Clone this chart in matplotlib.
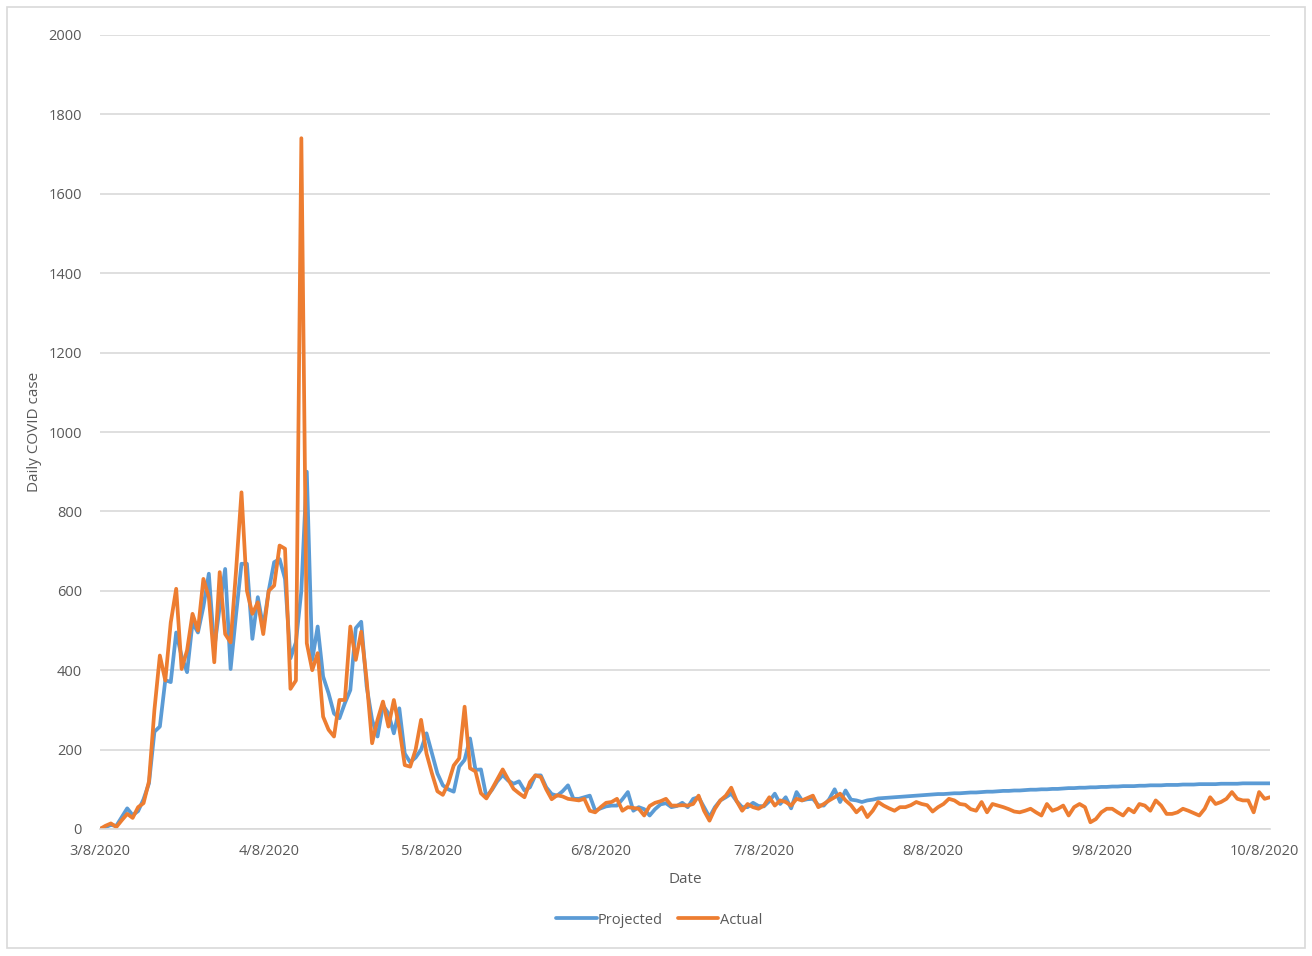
import numpy as np
import pandas as pd
import matplotlib
matplotlib.use("Agg")
import matplotlib.pyplot as plt
import matplotlib.dates as mdates
from matplotlib.patches import Rectangle
from matplotlib.ticker import FuncFormatter

## data, one value per day from 3/8/2020
start_date = "2020-03-08"

projected = [
    0, 5, 10, 8, 30, 52, 35, 45, 75, 115,
    245, 258, 375, 370, 495, 435, 395, 520, 495, 560,
    643, 455, 560, 655, 403, 540, 668, 668, 479, 584,
    508, 600, 672, 680, 630, 430, 470, 600, 900, 426,
    510, 384, 342, 291, 279, 317, 350, 506, 522, 359,
    275, 233, 312, 291, 241, 304, 190, 168, 180, 200,
    241, 190, 140, 110, 100, 94, 157, 174, 228, 149,
    150, 81, 98, 120, 136, 122, 114, 120, 97, 105,
    135, 135, 105, 88, 84, 95, 110, 76, 76, 80,
    84, 46, 52, 57, 59, 59, 75, 93, 46, 55,
    50, 34, 50, 62, 65, 55, 58, 66, 55, 76,
    80, 55, 30, 55, 72, 80, 89, 70, 55, 55,
    66, 58, 57, 70, 89, 63, 80, 52, 93, 72,
    75, 76, 60, 59, 75, 100, 68, 97, 74, 72,
    68, 72, 74, 77, 78, 79, 80, 81, 82, 83,
    84, 85, 86, 87, 88, 88, 89, 90, 90, 91,
    92, 92, 93, 94, 94, 95, 96, 96, 97, 97,
    98, 99, 99, 100, 100, 101, 101, 102, 103, 103,
    104, 104, 105, 105, 106, 106, 107, 107, 108, 108,
    108, 109, 109, 110, 110, 110, 111, 111, 111, 112,
    112, 112, 113, 113, 113, 113, 114, 114, 114, 114,
    115, 115, 115, 115, 115, 115,
]

actual = [
    0, 8, 14, 5, 22, 38, 28, 55, 65, 120,
    300, 437, 374, 520, 605, 403, 450, 542, 500, 630,
    584, 420, 647, 491, 470, 650, 848, 600, 542, 571,
    491, 600, 613, 714, 706, 353, 374, 1740, 468, 400,
    443, 283, 250, 233, 325, 325, 510, 426, 497, 375,
    216, 275, 321, 258, 325, 254, 161, 157, 200, 275,
    190, 140, 95, 86, 115, 160, 178, 308, 153, 145,
    90, 77, 100, 125, 150, 125, 101, 90, 80, 118,
    135, 131, 100, 75, 85, 82, 76, 74, 72, 76,
    46, 42, 55, 66, 68, 76, 46, 55, 53, 51,
    34, 58, 66, 70, 76, 59, 59, 60, 59, 63,
    84, 46, 21, 51, 72, 84, 104, 70, 46, 63,
    55, 51, 59, 80, 59, 72, 68, 59, 76, 72,
    78, 84, 55, 63, 72, 80, 89, 72, 60, 42,
    55, 30, 46, 68, 59, 52, 46, 55, 55, 60,
    68, 63, 60, 44, 55, 63, 76, 72, 63, 61,
    50, 46, 68, 42, 63, 59, 55, 50, 44, 42,
    46, 51, 42, 34, 63, 46, 51, 59, 34, 55,
    63, 55, 17, 25, 42, 51, 51, 42, 34, 51,
    42, 63, 59, 46, 72, 59, 38, 38, 42, 51,
    46, 40, 34, 51, 80, 63, 68, 76, 93, 76,
    72, 72, 42, 93, 76, 80,
]

tick_dates = pd.to_datetime(["2020-03-08", "2020-04-08", "2020-05-08", "2020-06-08",
                             "2020-07-08", "2020-08-08", "2020-09-08", "2020-10-08"])
y_ticks = [0, 200, 400, 600, 800, 1000, 1200, 1400, 1600, 1800, 2000]

dates = pd.date_range(start_date, periods=len(actual), freq="D")

blue = "#5B9BD5"
orange = "#ED7D31"
grey_text = "#595959"
grid_col = "#D9D9D9"

plt.rcParams["font.family"] = ["Open Sans", "DejaVu Sans"]

fig = plt.figure(figsize=(13.12, 9.56), dpi=100)
ax = fig.add_axes([100 / 1312, 1 - 829 / 956, 1170 / 1312, 794 / 956])

# chart border like the excel chart area
fig.patches.append(Rectangle((7 / 1312, 1 - 948 / 956), 1298 / 1312, 941 / 956,
                             transform=fig.transFigure, fill=False,
                             edgecolor=grid_col, linewidth=1.2))

ax.plot(dates, projected, color=blue, linewidth=2.7, label="Projected",
        solid_joinstyle="round", solid_capstyle="round")
ax.plot(dates, actual, color=orange, linewidth=2.7, label="Actual",
        solid_joinstyle="round", solid_capstyle="round")

ax.set_xlim(dates[0], dates[-1])
ax.set_ylim(0, 2000)
ax.set_yticks(y_ticks)
ax.set_xticks(tick_dates)
ax.xaxis.set_major_formatter(FuncFormatter(
    lambda v, pos: "{d.month}/{d.day}/{d.year}".format(d=mdates.num2date(v))))

ax.grid(axis="y", color=grid_col, linewidth=1.2)
ax.set_axisbelow(True)
for side in ["left", "right", "top"]:
    ax.spines[side].set_visible(False)
ax.spines["bottom"].set_color(grid_col)
ax.spines["bottom"].set_linewidth(1.2)

ax.tick_params(axis="both", length=0, labelsize=10.5, colors=grey_text)
ax.tick_params(axis="y", pad=13)
ax.tick_params(axis="x", pad=11)

ax.set_xlabel("Date", fontsize=11, color=grey_text, labelpad=9)
ax.set_ylabel("Daily COVID case", fontsize=11, color=grey_text, labelpad=5)

fig.legend(handles=ax.get_lines(), loc="center", bbox_to_anchor=(659 / 1312, 1 - 920 / 956),
           ncol=2, frameon=False, fontsize=10.5, labelcolor=grey_text,
           handlelength=2.8, handletextpad=0.1, columnspacing=1.0)

fig.savefig("out.png", dpi=100)
